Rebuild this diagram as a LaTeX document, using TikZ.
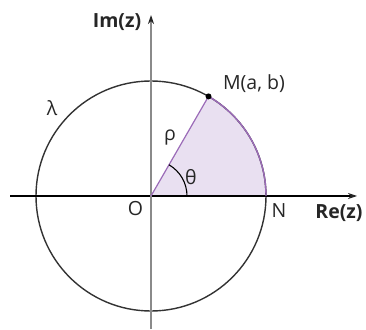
\documentclass[tikz,border=0pt]{standalone}
\usepackage{fontspec}
\setmainfont{Open Sans}
\usetikzlibrary{arrows.meta,calc}
\definecolor{secfill}{HTML}{E9E0F1}
\definecolor{secline}{HTML}{9B6BB8}
\definecolor{axgray}{HTML}{8A8A8A}
\begin{document}
\begin{tikzpicture}[x=1pt,y=1pt,
  lbl/.style={inner sep=0pt,font=\fontsize{19.5}{22}\selectfont,text=black!85},
  blbl/.style={lbl,font=\fontsize{19.5}{22}\selectfont\bfseries},
  axisline/.style={-{Stealth[length=9pt,width=6pt,color=black!85]}}]
\useasboundingbox (0,0) rectangle (366,329);
\coordinate (O) at (151,133);
\coordinate (N) at (266,133);
\coordinate (M) at ($(O)+(60:115)$);
\coordinate (xl) at (10,133);
\coordinate (xr) at (357,133);
\coordinate (yb) at (151,0);
\coordinate (yt) at (151,314);
% sector fill
\fill[secfill] (O) -- (N) arc[start angle=0,end angle=60,radius=115] -- cycle;
% circle
\draw[line width=1.4pt,black!80] (O) circle[radius=115];
% axes
\draw[axisline,line width=1.1pt,black] (xl) -- (xr);
\draw[axisline,line width=2pt,axgray] (yb) -- (yt);
% sector edges
\draw[secline,line width=1.2pt] (O) -- (M);
\draw[secline,line width=1.4pt] (N) arc[start angle=0,end angle=60,radius=115];
% angle arc
\draw[line width=1.1pt,black] ($(O)+(36,0)$) arc[start angle=0,end angle=60,radius=36];
% point M
\fill (M) circle[radius=3pt];
% labels
\node[blbl] (lim) at (117,307) {Im(z)};
\node[blbl] (lre) at (339,116) {Re(z)};
\node[lbl] (lN) at (279,118) {N};
\node[lbl] (lO) at (135.5,120) {O};
\node[lbl] (lM) at (254,245) {M(a, b)};
\node[lbl] (lrho) at (170,191) {ρ};
\node[lbl] (lth) at (191,152) {θ};
\node[lbl] (llam) at (52,221) {λ};
\end{tikzpicture}
\end{document}
